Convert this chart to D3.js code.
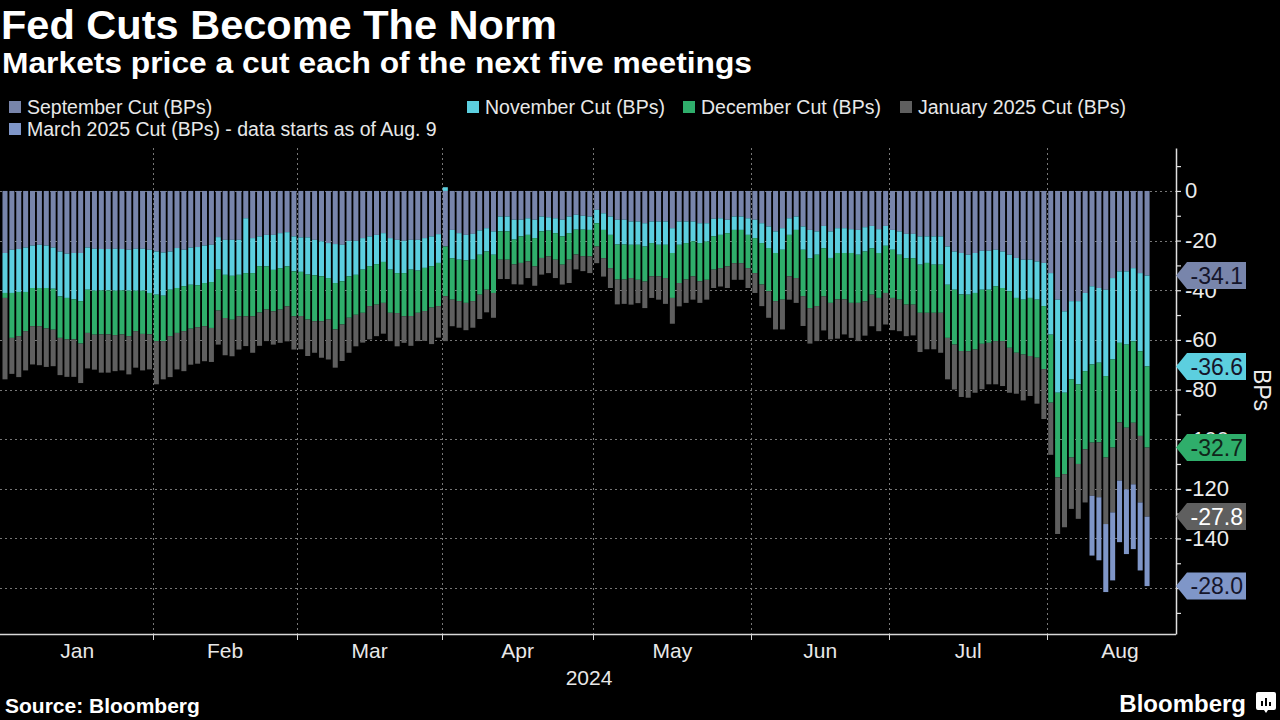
<!DOCTYPE html>
<html><head><meta charset="utf-8">
<script src="https://cdn.jsdelivr.net/npm/d3@7"></script>
<style>
html,body{margin:0;padding:0;background:#000;}
svg{display:block;}
text{font-family:"Liberation Sans",Arial,sans-serif;}
</style></head><body>
<svg id="chart" width="1280" height="720"></svg>
<script>
// ---- DATA (basis points, one value per trading day, Jan 2 – Aug 21, 2024) ----
const seriesNames = ["September Cut (BPs)","November Cut (BPs)","December Cut (BPs)","January 2025 Cut (BPs)","March 2025 Cut (BPs) - data starts as of Aug. 9"];
const monthLabels = ["Jan","Feb","Mar","Apr","May","Jun","Jul","Aug"];
const yearLabel = "2024";
const yTicks = [0,-20,-40,-60,-80,-100,-120,-140,-160];

const sepCut = [
-25.0,-23.7,-23.4,-22.8,-22.0,-21.7,-22.0,-22.8,-24.4,-25.3,-25.0,-25.0,-22.8,-23.3,-23.4,-23.4,-23.3,-23.4,-23.7,-23.3,-23.3,-23.7,
-24.4,-24.8,-24.4,-23.0,-23.7,-22.8,-22.6,-22.0,-21.7,-18.6,-19.7,-19.7,-19.7,-11.0,-19.0,-18.3,-17.7,-17.7,-17.0,-16.6,-18.3,
-18.7,-18.7,-19.7,-20.3,-21.0,-21.4,-21.7,-20.1,-20.1,-19.0,-18.3,-17.7,-17.0,-19.0,-19.7,-20.1,-19.7,-19.7,-19.0,-18.3,-17.4,
-22.4,-15.7,-17.0,-17.7,-17.3,-15.9,-15.0,-16.3,-10.3,-10.3,-11.6,-11.6,-11.0,-11.6,-10.3,-10.6,-11.0,-11.6,-10.3,-9.6,-10.0,-10.3,
-7.6,-9.0,-10.3,-11.6,-11.6,-12.3,-12.3,-13.0,-12.3,-12.3,-12.3,-15.0,-12.3,-12.3,-12.3,-13.0,-13.0,-11.2,-11.0,-11.6,-10.3,-10.3,-11.0,
-11.6,-13.0,-14.3,-16.3,-15.0,-11.0,-10.3,-14.3,-15.7,-16.3,-14.1,-16.3,-15.0,-15.0,-15.4,-15.7,-14.6,-14.1,-15.4,-14.1,
-15.7,-16.3,-17.3,-17.3,-18.3,-18.3,-18.3,-18.3,-22.4,-24.4,-25.0,-25.7,-25.0,-24.1,-24.1,-23.7,-24.4,-25.7,-27.0,-27.7,-27.7,-28.4,-29.0,
-33.1,-43.8,-48.5,-44.4,-44.4,-41.1,-38.4,-39.1,-39.8,-35.1,-32.4,-32.4,-31.1,-33.1,-34.1];

const novCut = [
-16.1,-17.4,-17.3,-17.9,-17.1,-17.4,-17.1,-16.6,-18.1,-17.8,-18.7,-19.4,-17.0,-16.9,-16.7,-16.7,-16.9,-16.7,-16.5,-16.9,-16.9,-17.4,
-17.4,-17.4,-15.4,-16.1,-14.7,-15.0,-15.4,-15.1,-15.0,-13.1,-14.1,-14.5,-14.1,-22.1,-14.1,-12.0,-12.7,-14.1,-14.1,-13.8,-14.1,
-13.9,-15.0,-14.3,-14.1,-14.1,-15.7,-14.7,-14.3,-13.7,-12.7,-12.0,-11.8,-11.6,-12.7,-13.4,-13.0,-12.0,-12.4,-12.0,-12.0,-11.6,
1.5,-11.4,-10.7,-10.3,-10.4,-9.8,-9.4,-9.4,-6.0,-6.0,-8.0,-6.7,-6.7,-7.4,-6.0,-5.4,-6.0,-6.7,-6.7,-6.0,-5.6,-5.4,
-5.4,-6.7,-7.4,-10.0,-10.0,-9.4,-9.4,-9.4,-8.7,-9.4,-9.4,-10.0,-9.4,-8.7,-8.0,-8.0,-7.4,-7.1,-6.7,-5.4,-5.4,-5.4,-6.7,
-7.4,-8.0,-8.7,-8.7,-8.7,-6.7,-5.4,-9.4,-11.4,-9.4,-9.0,-10.7,-10.0,-10.0,-9.6,-10.0,-9.8,-9.0,-9.6,-8.0,
-8.0,-9.4,-9.8,-9.8,-11.4,-10.7,-11.4,-11.4,-15.4,-15.4,-16.7,-16.1,-16.1,-15.7,-15.7,-14.7,-14.7,-14.7,-16.1,-16.1,-15.4,-15.4,-17.4,
-24.8,-37.5,-32.8,-31.5,-33.5,-31.5,-31.5,-30.1,-34.8,-32.8,-28.8,-29.5,-29.5,-31.5,-36.6];

const decCut = [
-2.0,-18.1,-17.8,-15.8,-15.4,-15.4,-16.3,-16.5,-16.7,-16.7,-16.1,-17.1,-17.4,-17.7,-17.7,-17.7,-17.9,-17.7,-18.3,-16.3,-17.4,-16.7,
-18.7,-18.3,-18.7,-18.1,-18.1,-17.7,-16.9,-17.4,-18.5,-16.5,-17.4,-17.7,-16.7,-17.4,-17.4,-18.7,-17.4,-16.7,-16.7,-16.1,-18.1,
-17.8,-18.1,-18.5,-18.1,-16.7,-18.7,-17.4,-16.7,-16.1,-17.4,-16.1,-16.3,-16.5,-17.4,-16.1,-17.4,-18.7,-17.0,-17.4,-16.7,-17.4,
-20.0,-16.7,-16.7,-17.1,-16.7,-16.1,-15.4,-15.4,-11.4,-11.4,-10.0,-10.7,-10.7,-11.4,-10.7,-10.4,-10.7,-11.4,-10.7,-10.0,-10.7,-10.7,
-9.4,-11.4,-13.4,-14.1,-14.1,-13.4,-14.1,-14.1,-13.4,-12.7,-13.4,-18.1,-15.4,-14.7,-14.1,-15.4,-15.4,-13.4,-13.4,-13.4,-13.4,-13.4,-13.4,
-14.1,-16.7,-17.4,-19.4,-20.1,-16.7,-19.4,-18.7,-20.1,-20.7,-19.4,-18.1,-18.7,-18.7,-20.1,-19.4,-20.1,-18.7,-18.1,-19.0,
-19.4,-18.1,-18.7,-18.7,-19.4,-20.1,-19.4,-19.4,-21.4,-22.1,-22.8,-22.8,-22.8,-21.8,-21.4,-22.1,-21.4,-22.8,-22.1,-22.1,-23.4,-23.4,-25.4,
-27.4,-34.1,-32.8,-31.5,-32.1,-31.5,-31.5,-32.1,-32.8,-35.5,-32.1,-33.5,-32.8,-34.1,-32.7];

const janCut = [
-32.8,-14.5,-16.5,-15.8,-15.4,-15.7,-15.5,-14.7,-15.0,-15.1,-15.1,-15.9,-14.3,-14.1,-15.4,-15.4,-14.5,-14.5,-15.4,-14.7,-14.7,-14.1,
-17.4,-15.4,-16.5,-14.7,-16.1,-14.5,-14.7,-14.1,-13.7,-13.7,-15.0,-14.7,-13.4,-12.0,-14.7,-13.4,-12.7,-13.4,-13.4,-14.1,-13.4,
-13.4,-14.7,-12.7,-14.7,-16.1,-15.4,-14.7,-14.1,-12.7,-12.0,-13.4,-12.7,-12.4,-11.4,-13.4,-10.7,-12.0,-11.4,-12.0,-14.7,-12.7,
-18.1,-10.7,-10.7,-11.0,-10.7,-9.8,-9.1,-10.0,-7.8,-7.8,-8.0,-8.7,-6.7,-7.8,-6.7,-6.7,-7.4,-8.0,-9.4,-6.0,-6.0,-6.7,
-6.7,-7.4,-8.0,-10.0,-9.8,-10.7,-9.4,-10.7,-8.7,-9.4,-10.4,-10.4,-9.4,-9.4,-9.4,-8.7,-8.0,-7.4,-7.4,-8.7,-6.7,-6.7,-8.0,
-8.0,-8.7,-10.7,-11.4,-12.0,-9.4,-10.0,-12.0,-14.3,-14.1,-13.7,-14.7,-15.8,-14.1,-14.1,-15.4,-13.8,-12.7,-13.4,-12.7,
-13.0,-12.7,-12.7,-12.4,-15.8,-14.7,-14.7,-16.1,-16.7,-18.1,-18.5,-18.7,-17.4,-18.3,-16.7,-17.4,-18.1,-18.1,-16.5,-18.5,-16.1,-18.5,-20.1,
-21.0,-22.8,-21.4,-20.7,-22.1,-21.4,-21.4,-22.1,-26.8,-26.1,-23.4,-24.8,-24.8,-26.8,-27.8];

// March 2025 only exists from Aug 9 (last nine trading days)
const marCutLast = [-24.1,-25.4,-27.4,-27.4,-24.8,-26.1,-26.1,-27.4,-28.0];

const colors = ["#7885ab","#5ccfdf","#2fae6b","#5f5f5f","#7f96c8"];
const tagText = ["#15152a","#15152a","#10251a","#ffffff","#15152a"];

// ---- BUILD ----
const W = 1280, H = 720;
const svg = d3.select("#chart");
svg.append("rect").attr("width", W).attr("height", H).attr("fill", "#000");

const dates = d3.timeDay.range(new Date(2024,0,2), new Date(2024,7,22))
  .filter(d => d.getDay() !== 0 && d.getDay() !== 6);
const n = dates.length;
const marCut = dates.map((d,i) => i >= n - marCutLast.length ? marCutLast[i - (n - marCutLast.length)] : 0);

const keys = ["sep","nov","dec","jan","mar"];
const rows = dates.map((d,i) => ({date:d, sep:sepCut[i], nov:novCut[i], dec:decCut[i], jan:janCut[i], mar:marCut[i]}));
const stacked = d3.stack().keys(keys).offset(d3.stackOffsetDiverging)(rows);

const plotL = 0, plotR = 1176, plotT = 148, plotB = 634;
const x = d3.scaleBand().domain(d3.range(n)).range([1.56, 1150.5]).paddingInner(0.27).paddingOuter(0.135);
const step = x.step();
const idxPos = k => x.range()[0] + (k + 0.5) * step; // centre of slot k (also beyond data)
const y = d3.scaleLinear().domain([-178.5, 17.3]).range([plotB, plotT]);

// month boundaries
const monthFirst = [];
dates.forEach((d,i) => { if (i === 0 || d.getMonth() !== dates[i-1].getMonth()) monthFirst.push(i); });

const grid = svg.append("g").attr("stroke", "#777").attr("stroke-width", 1).attr("stroke-dasharray", "2,3");
yTicks.forEach(t => {
  grid.append("line").attr("x1", plotL).attr("x2", plotR).attr("y1", Math.round(y(t))+0.5).attr("y2", Math.round(y(t))+0.5);
});
monthFirst.slice(1).forEach(i => {
  const bx = Math.round(idxPos(i) - step/2) + 0.5;
  grid.append("line").attr("x1", bx).attr("x2", bx).attr("y1", plotT).attr("y2", plotB);
});

// bars
const barsG = svg.append("g");
stacked.forEach((layer, li) => {
  barsG.append("g").attr("fill", colors[li])
    .selectAll("rect").data(layer.filter(d => d[1] !== d[0])).join("rect")
    .attr("x", (d) => x(rows.indexOf(d.data)))
    .attr("width", x.bandwidth())
    .attr("y", d => y(Math.max(d[0], d[1])))
    .attr("height", d => Math.abs(y(d[0]) - y(d[1])));
});

// x axis
const xa = svg.append("g");
xa.append("line").attr("x1", 0).attr("x2", plotR).attr("y1", plotB+0.5).attr("y2", plotB+0.5).attr("stroke", "#d8d8d8").attr("stroke-width", 1.5);
monthFirst.slice(1).forEach(i => {
  const bx = Math.round(idxPos(i) - step/2) + 0.5;
  xa.append("line").attr("x1", bx).attr("x2", bx).attr("y1", plotB).attr("y2", plotB+6).attr("stroke", "#d8d8d8");
});
// label at the centre of each month's full trading-day span
const allDays = d3.timeDay.range(new Date(2024,0,2), new Date(2024,8,1)).filter(d => d.getDay() !== 0 && d.getDay() !== 6);
monthLabels.forEach((m, mi) => {
  const idx = allDays.map((d,i) => d.getMonth() === mi ? i : -1).filter(i => i >= 0);
  const mid = (idx[0] + idx[idx.length-1]) / 2;
  xa.append("text").attr("x", idxPos(mid) - (mi === 7 ? 3 : 0)).attr("y", 658).attr("text-anchor", "middle")
    .attr("fill", "#e8e8e8").attr("font-size", 21).text(m);
});
xa.append("text").attr("x", 589).attr("y", 685).attr("text-anchor", "middle")
  .attr("fill", "#e8e8e8").attr("font-size", 21).text(yearLabel);

// y axis (right)
const yAxis = d3.axisRight(y).tickValues(d3.range(-170, 20, 10)).tickSize(5).tickSizeOuter(0).tickPadding(4)
  .tickFormat(v => v % 20 === 0 ? String(v) : "");
const ya = svg.append("g").attr("transform", `translate(${plotR},0)`).call(yAxis);
ya.select(".domain").attr("stroke", "#e0e0e0").attr("stroke-width", 1.5);
ya.selectAll(".tick line").attr("stroke", "#e0e0e0").attr("stroke-width", 1.2);
ya.selectAll(".tick text").attr("fill", "#ececec").attr("font-size", 22).attr("font-family", "Liberation Sans, Arial, sans-serif");

svg.append("text").attr("transform", "translate(1254,390) rotate(90)").attr("text-anchor", "middle")
  .attr("fill", "#ececec").attr("font-size", 23).text("BPs");

// end tags
const last = n - 1;
const lastVals = [sepCut[last], novCut[last], decCut[last], janCut[last], marCut[last]];
stacked.forEach((layer, li) => {
  const cy = y(layer[last][0]);
  const g = svg.append("g");
  g.append("path").attr("d", `M${plotR},${cy} L${plotR+11},${cy-13.5} L1246,${cy-13.5} L1246,${cy+13.5} L${plotR+11},${cy+13.5} Z`)
    .attr("fill", colors[li]);
  g.append("text").attr("x", 1243).attr("y", cy).attr("dy", "0.36em").attr("text-anchor", "end")
    .attr("fill", tagText[li]).attr("font-size", 23).text(lastVals[li].toFixed(1));
});

// titles
svg.append("text").attr("x", 1).attr("y", 39).attr("fill", "#fff").attr("font-size", 41).attr("font-weight", "bold")
  .attr("textLength", 556).attr("lengthAdjust", "spacingAndGlyphs").text("Fed Cuts Become The Norm");
svg.append("text").attr("x", 2).attr("y", 73).attr("fill", "#fff").attr("font-size", 29).attr("font-weight", "bold")
  .attr("textLength", 750).attr("lengthAdjust", "spacingAndGlyphs").text("Markets price a cut each of the next five meetings");

// legend
const legendPos = [[9,107],[467,107],[683,107],[900,107],[9,129]];
seriesNames.forEach((s, i) => {
  const [lx, ly] = legendPos[i];
  svg.append("rect").attr("x", lx).attr("y", ly-6).attr("width", 12).attr("height", 12).attr("fill", colors[i]);
  svg.append("text").attr("x", lx+18).attr("y", ly+7).attr("fill", "#e8e8e8").attr("font-size", 19.5).text(s);
});

// footer
svg.append("text").attr("x", 5).attr("y", 713).attr("fill", "#fff").attr("font-size", 21).attr("font-weight", "bold").text("Source: Bloomberg");
svg.append("text").attr("x", 1246).attr("y", 712).attr("text-anchor", "end").attr("fill", "#fff").attr("font-size", 24).attr("font-weight", "bold").text("Bloomberg");
const logo = svg.append("g").attr("transform", "translate(1256,692)");
logo.append("path").attr("d", "M2,0 H18 Q20,0 20,2 V16 Q20,18 18,18 H12 L10,21 L8,18 H2 Q0,18 0,16 V2 Q0,0 2,0 Z").attr("fill", "#fff");
[[5,9,2],[9,6,2],[13,10,2]].forEach(([bx,by,bw]) => logo.append("rect").attr("x", bx).attr("y", by).attr("width", bw).attr("height", 14-by).attr("fill", "#000"));
</script>
</body></html>
